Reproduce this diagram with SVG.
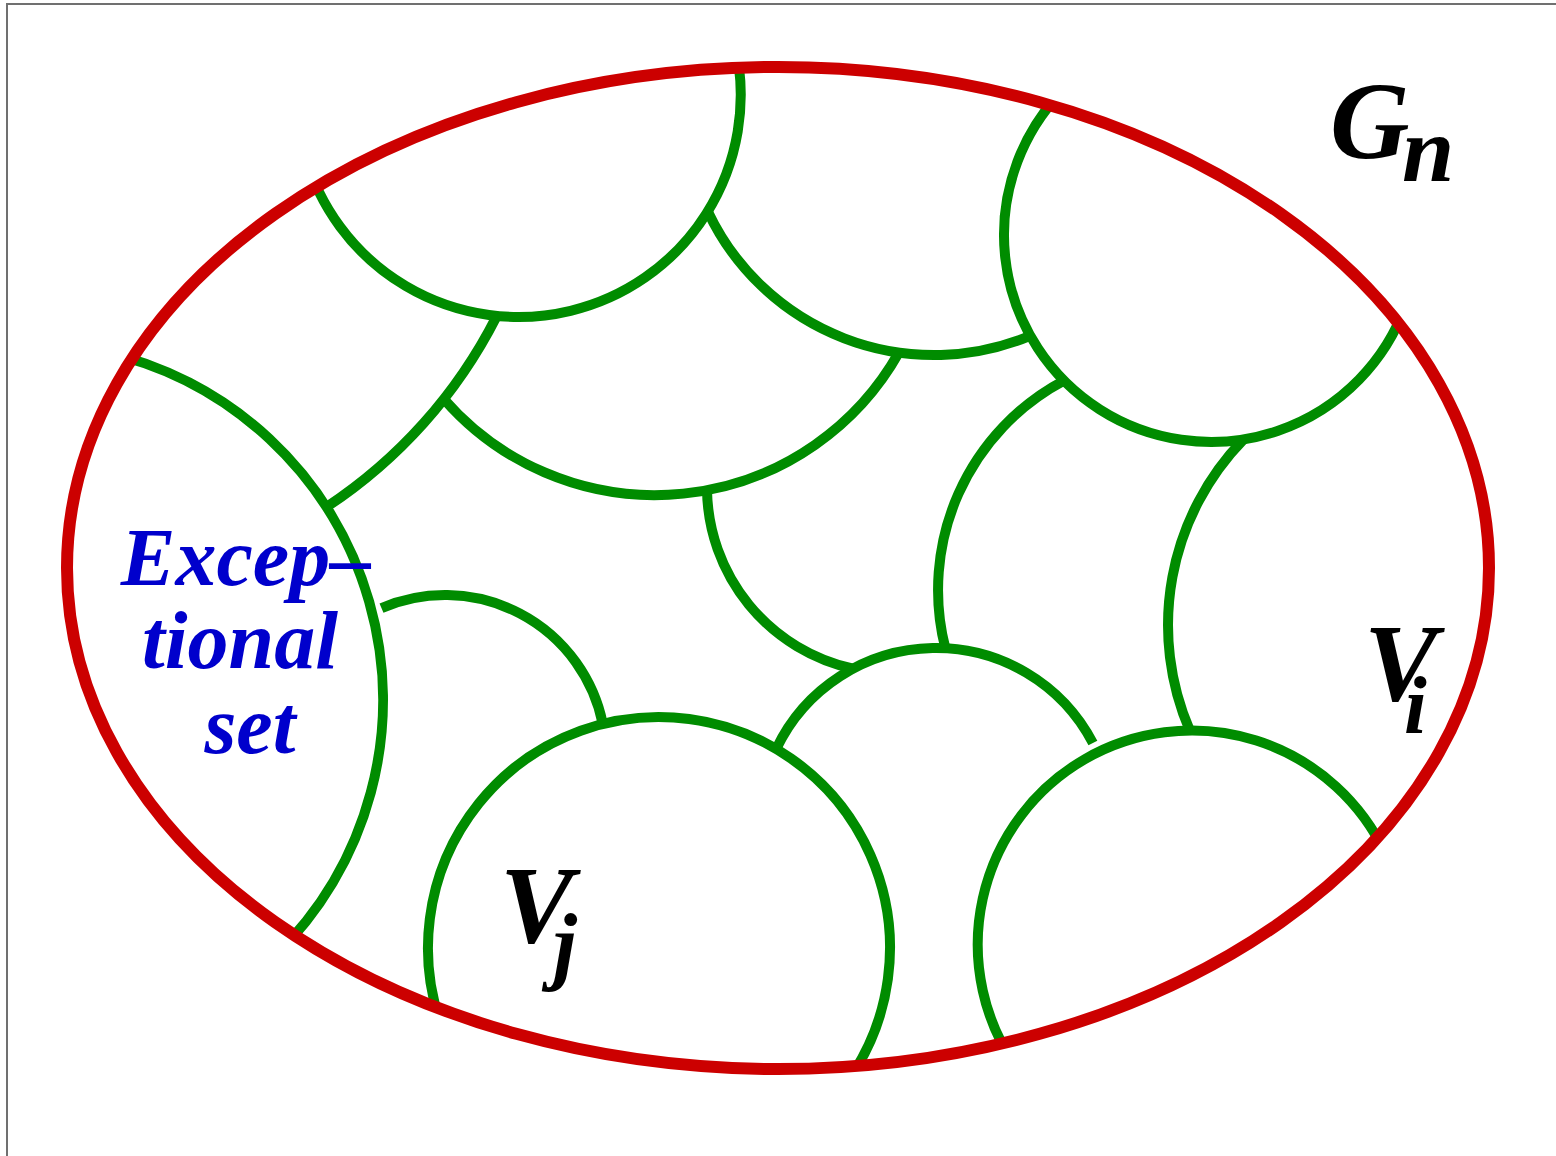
<svg xmlns="http://www.w3.org/2000/svg" width="1556" height="1156" viewBox="0 0 1556 1156">
<style>
.frame{fill:none;stroke:#707070;stroke-width:2}
.outer{fill:none;stroke:#cc0000;stroke-width:12}
.arc{fill:none;stroke:#008c00;stroke-width:10;stroke-linecap:butt}
.lab{font-family:"Liberation Serif","Times New Roman",serif;font-weight:bold;font-style:italic;fill:#000}
.exc{font-family:"Liberation Serif","Times New Roman",serif;font-weight:bold;font-style:italic;fill:#0000cc;font-size:82px;text-anchor:middle}
</style>
<defs>
<clipPath id="inside"><ellipse cx="778" cy="568" rx="711" ry="501"/></clipPath>
</defs>
<rect class="frame" x="7" y="4" width="1600" height="1200"/>
<g id="arcs" clip-path="url(#inside)">
<path id="arcA" class="arc" d="M304.6,153.5 A222,222 0 0 0 736.1,49.8"/>
<path id="arcC" class="arc" d="M708,211.8 A250,250 0 0 0 1030.1,335.8"/>
<path id="arcD" class="arc" d="M1064.6,88.6 A207,207 0 1 0 1405.5,305.8"/>
<path id="arcE" class="arc" d="M496.3,316.9 A498,498 0 0 1 326.3,507.1"/>
<path id="arcF" class="arc" d="M443.8,399 A280,280 0 0 0 898.9,352.5"/>
<path id="arcG" class="arc" d="M100.2,350.8 A357,357 0 0 1 274,956.8"/>
<path id="arcH" class="arc" d="M381.5,608.1 A161,161 0 0 1 602.8,723.9"/>
<path id="arcI" class="arc" d="M441.9,1027 A231,231 0 1 1 848.2,1080.5"/>
<path id="arcJ" class="arc" d="M707,490.1 A186,186 0 0 0 853.1,668.7"/>
<path id="arcK" class="arc" d="M776.2,748.9 A177,177 0 0 1 1092.9,743"/>
<path id="arcL" class="arc" d="M945.3,648.1 A237,237 0 0 1 1064,380.6"/>
<path id="arcM" class="arc" d="M1243.5,439.5 A266,266 0 0 0 1190,731"/>
<path id="arcN" class="arc" d="M1016.7,1067.7 A214,214 0 1 1 1385.9,854.6"/>
</g>
<g id="Gn">
<ellipse class="outer" cx="778" cy="568" rx="711" ry="501"/>
<text class="lab" x="1330" y="158" font-size="110">G<tspan x="1402" y="181" font-size="94">n</tspan></text>
</g>
<g id="exceptional">
<text class="exc" x="246" y="585">Excep–</text>
<text class="exc" x="240" y="668">tional</text>
<text class="exc" x="250" y="753">set</text>
</g>
<g id="Vi">
<text class="lab" x="1364" y="700" font-size="110">V<tspan x="1404" y="733" font-size="82">i</tspan></text>
</g>
<g id="Vj">
<text class="lab" x="500" y="942" font-size="110">V<tspan x="553" y="973" font-size="86">j</tspan></text>
</g>
</svg>
